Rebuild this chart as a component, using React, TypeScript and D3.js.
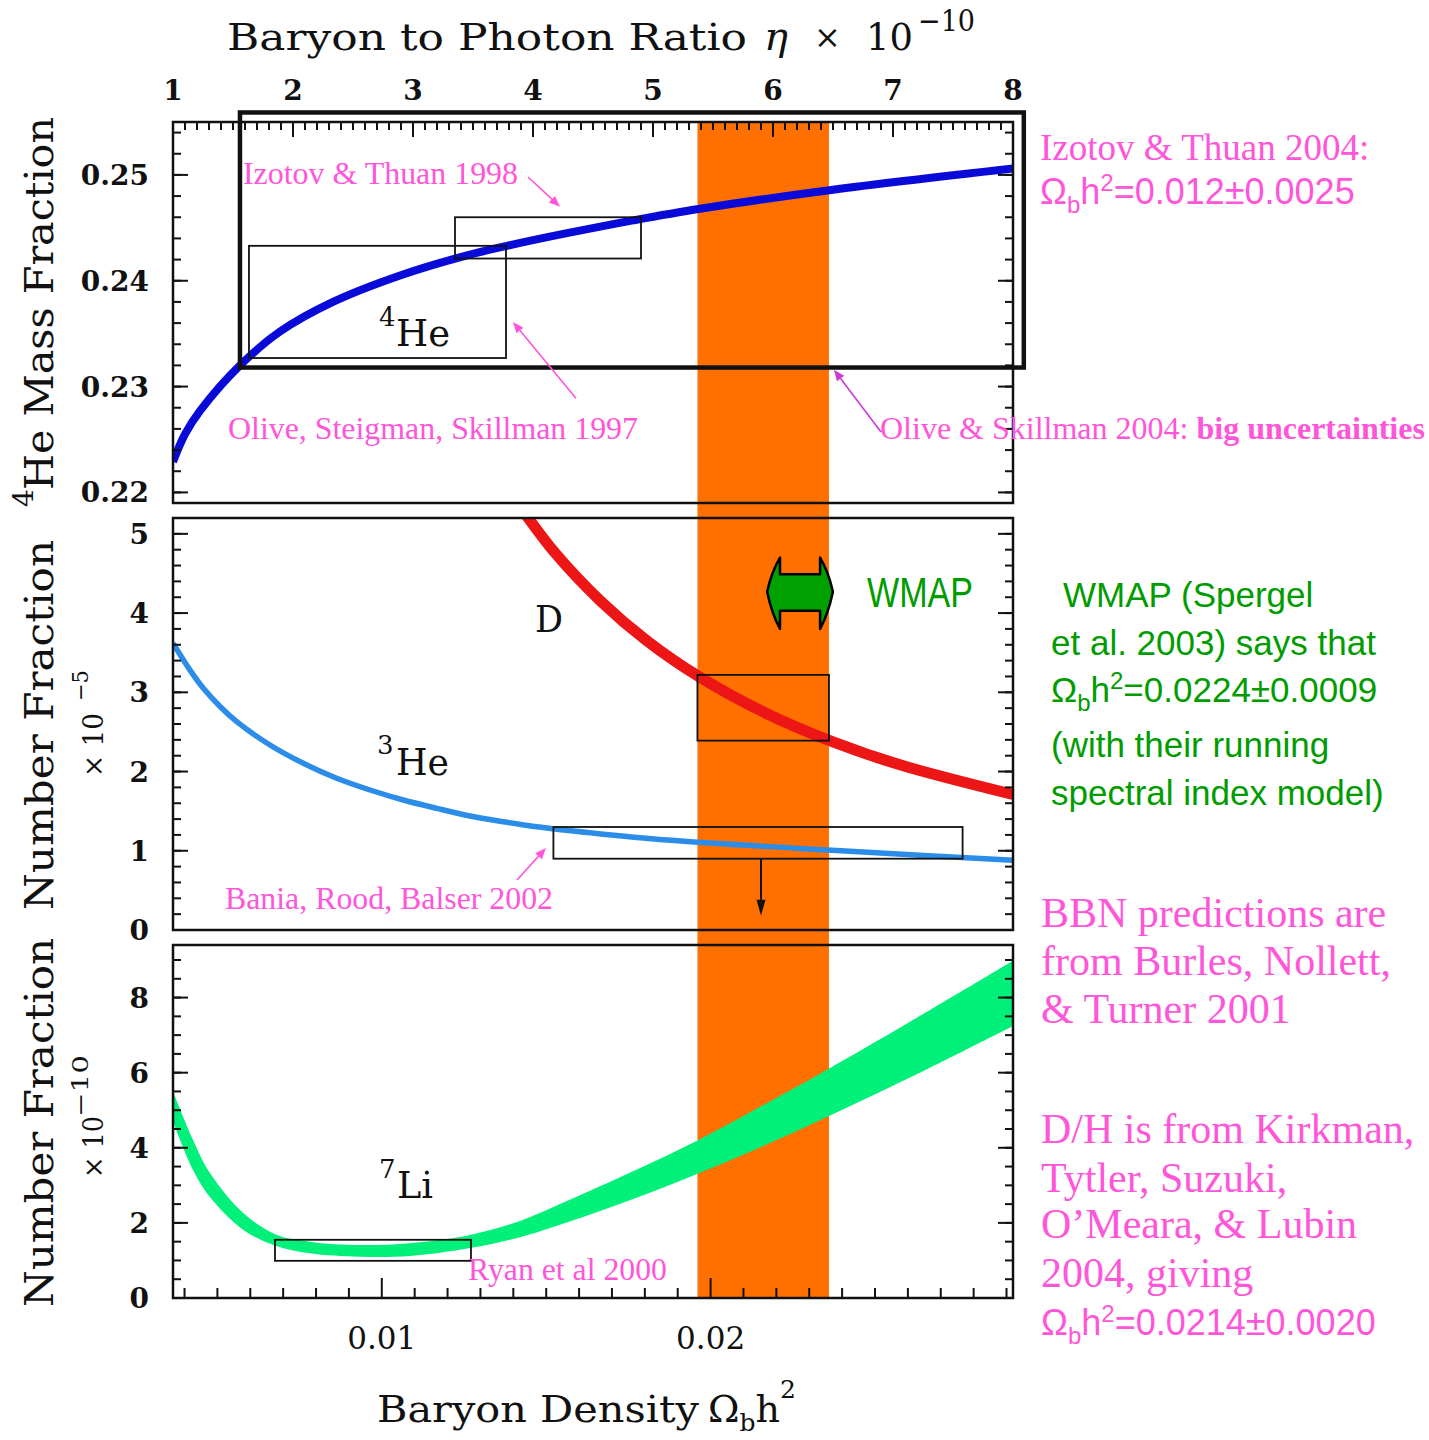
import React from "react";
import * as d3 from "d3";

// ---------------- data ----------------
const etaTicks = [1, 2, 3, 4, 5, 6, 7, 8];
const omegaTicks = [0.01, 0.02];
const he4Ticks = [0.22, 0.23, 0.24, 0.25];
const numTicks5 = [0, 1, 2, 3, 4, 5];
const numTicks10 = [0, 2, 4, 6, 8];

// 4He mass fraction vs eta_10
const he4Eta = [1.0, 1.1, 1.225, 1.558, 1.892, 2.333, 2.892, 3.45, 3.783, 4.283, 4.833, 5.392, 6.5, 8.0];
const he4Yp = [0.2229, 0.2255, 0.2277, 0.232, 0.2352, 0.238, 0.2405, 0.2424, 0.2433, 0.2445, 0.2457, 0.2468, 0.2486, 0.2506];

// D/H x 1e-5
const dEta = [3.85, 3.917, 4.167, 4.558, 4.95, 5.392, 5.95, 6.5, 7.058, 8.0];
const dVal = [5.43, 5.29, 4.79, 4.16, 3.65, 3.19, 2.73, 2.374, 2.085, 1.71];

// 3He/H x 1e-5
const he3Eta = [1.0, 1.142, 1.253, 1.392, 1.531, 1.808, 2.086, 2.364, 2.642, 2.919, 3.197, 3.475, 3.753, 4.031, 4.475, 5.117, 6.225, 7.333, 8.0];
const he3Val = [3.62, 3.28, 3.05, 2.82, 2.63, 2.335, 2.104, 1.915, 1.767, 1.641, 1.536, 1.439, 1.367, 1.304, 1.228, 1.136, 1.03, 0.935, 0.88];

// 7Li/H x 1e-10 band
const li7Eta = [1.0, 1.167, 1.308, 1.583, 1.85, 2.142, 2.558, 2.975, 3.475, 3.892, 4.225, 4.783, 5.367, 5.892, 6.45, 7.283, 8.0];
const li7Low = [4.7, 3.41, 2.69, 1.82, 1.4, 1.19, 1.1, 1.12, 1.33, 1.62, 1.95, 2.575, 3.305, 4.01, 4.82, 6.09, 7.24];
const li7High = [5.5, 4.21, 3.33, 2.27, 1.7, 1.5, 1.41, 1.46, 1.68, 2.05, 2.5, 3.3, 4.19, 5.09, 6.08, 7.62, 8.98];

// observational boxes / bands
const dhBand = [0.0196, 0.0236]; // Omega_b h^2 (Kirkman et al. 2004)
const dhRange = [2.39, 3.22];
const oss97Eta = [1.633, 3.775];
const oss97Yp = [0.2327, 0.2433];
const it98Eta = [3.35, 4.9];
const it98Yp = [0.2421, 0.246];
const os04Eta = [1.558, 8.09];
const os04Yp = [0.2318, 0.2559];
const brb02Eta = [4.17, 7.58];
const brb02Val = [0.9, 1.3];
const brbArrowEta = 5.9;
const brbArrowTo = 0.18;
const ryanEta = [1.85, 3.483];
const ryanVal = [0.99, 1.55];
const wmapTip = [0.02172, 0.02372];
const wmapNeck = [0.02211, 0.02333];
const wmapHead = [3.8, 4.7];
const wmapBody = [4.03, 4.49];
const wmapMid = 4.27;

// ---------------- styles ----------------
const AX = "'DejaVu Serif', serif";
const TIMES = "'Liberation Serif', 'Times New Roman', serif";
const SANS = "'Liberation Sans', Arial, sans-serif";
const PINK = "#ff55d9";
const GREEN = "#009c00";
const ORANGE = "#ff7000";

function Arrow({ x1, y1, x2, y2, color, w = 1.6, hl = 11, hw = 4.5 }: any) {
  const a = Math.atan2(y2 - y1, x2 - x1);
  const bx = x2 - hl * Math.cos(a);
  const by = y2 - hl * Math.sin(a);
  const px = -Math.sin(a) * hw;
  const py = Math.cos(a) * hw;
  return (
    <g>
      <line x1={x1} y1={y1} x2={bx} y2={by} stroke={color} strokeWidth={w} />
      <path d={`M${x2},${y2}L${bx + px},${by + py}L${bx - px},${by - py}Z`} fill={color} />
    </g>
  );
}

export default function App() {
  const X0 = 173, X1 = 1013;
  const P1 = [122, 503], P2 = [518, 930], P3 = [945, 1298];
  const xEta = d3.scaleLinear().domain([1, 8]).range([X0, X1]);
  const xOm = d3.scaleLinear().domain([1 / 274, 8 / 274]).range([X0, X1]);
  const y1 = d3.scaleLinear().domain([0.219, 0.255]).range([P1[1], P1[0]]);
  const y2 = d3.scaleLinear().domain([0, 5.2]).range([P2[1], P2[0]]);
  const y3 = d3.scaleLinear().domain([0, 9.4]).range([P3[1], P3[0]]);

  const curve = d3.curveCatmullRom.alpha(0.5);
  const mkLine = (xs: number[], ys: number[], ys2: any) =>
    d3.line<number>().x((_, i) => xEta(xs[i])).y((d) => ys2(d)).curve(curve)(ys) as string;

  const he4Path = mkLine(he4Eta, he4Yp, y1);
  const dPath = mkLine(dEta, dVal, y2);
  const he3Path = mkLine(he3Eta, he3Val, y2);
  const liPath = d3
    .area<number>()
    .x((d) => xEta(d))
    .y0((_, i) => y3(li7Low[i]))
    .y1((_, i) => y3(li7High[i]))
    .curve(curve)(li7Eta) as string;

  const box = (xs: any, ys: any, xr: number[], yr: number[], sw = 1.8) => (
    <rect
      x={xs(xr[0])}
      y={ys(yr[1])}
      width={xs(xr[1]) - xs(xr[0])}
      height={ys(yr[0]) - ys(yr[1])}
      fill="none"
      stroke="#111"
      strokeWidth={sw}
    />
  );

  // ticks
  const etaMinor = d3.range(10, 81).map((i) => i / 10).filter((v) => Math.abs(v - Math.round(v)) > 1e-6);
  const omMinor = d3.range(4, 30).filter((i) => i % 10 !== 0).map((i) => i / 1000);
  const he4Minor = d3.range(110, 128).map((i) => i * 0.002).filter((v) => v < 0.2549);
  const n5Minor = d3.range(0, 26).map((i) => i * 0.2);
  const n10Minor = d3.range(0, 19).map((i) => i * 0.5);

  const yTicks = (ys: any, major: number[], minor: number[]) => (
    <g stroke="#111" strokeWidth={2}>
      {minor.map((v, i) => (
        <g key={"m" + i}>
          <line x1={X0} x2={X0 + 8} y1={ys(v)} y2={ys(v)} />
          <line x1={X1} x2={X1 - 8} y1={ys(v)} y2={ys(v)} />
        </g>
      ))}
      {major.map((v, i) => (
        <g key={"M" + i}>
          <line x1={X0} x2={X0 + 15} y1={ys(v)} y2={ys(v)} />
          <line x1={X1} x2={X1 - 15} y1={ys(v)} y2={ys(v)} />
        </g>
      ))}
    </g>
  );
  const yLabels = (ys: any, major: number[], fmt: (v: number) => string) => (
    <g fontFamily={AX} fontWeight="bold" fontSize={28} fill="#111" textAnchor="end">
      {major.map((v, i) => (
        <text key={i} x={149} y={ys(v) + 10}>
          {fmt(v)}
        </text>
      ))}
    </g>
  );

  // WMAP double arrow
  const tl = xOm(wmapTip[0]), tr = xOm(wmapTip[1]);
  const nl = xOm(wmapNeck[0]), nr = xOm(wmapNeck[1]);
  const yc = y2(wmapMid);
  const yh0 = y2(wmapHead[1]), yh1 = y2(wmapHead[0]);
  const yb0 = y2(wmapBody[1]), yb1 = y2(wmapBody[0]);
  const bl = (nl - tl) * 0.35;
  const wmapPath =
    `M${nl},${yh0}L${nl},${yb0}L${nr},${yb0}L${nr},${yh0}` +
    `Q${tr - bl},${(yh0 + yc) / 2 - 3} ${tr},${yc}` +
    `Q${tr - bl},${(yh1 + yc) / 2 + 3} ${nr},${yh1}` +
    `L${nr},${yb1}L${nl},${yb1}L${nl},${yh1}` +
    `Q${tl + bl},${(yh1 + yc) / 2 + 3} ${tl},${yc}` +
    `Q${tl + bl},${(yh0 + yc) / 2 - 3} ${nl},${yh0}Z`;

  return (
    <svg
      width={1429}
      height={1440}
      viewBox="0 0 1429 1440"
      style={{ position: "absolute", left: 0, top: 0, background: "#fff" }}
    >
      <defs>
        <clipPath id="c1"><rect x={X0} y={P1[0]} width={X1 - X0} height={P1[1] - P1[0]} /></clipPath>
        <clipPath id="c2"><rect x={X0} y={P2[0]} width={X1 - X0} height={P2[1] - P2[0]} /></clipPath>
        <clipPath id="c3"><rect x={X0} y={P3[0]} width={X1 - X0} height={P3[1] - P3[0]} /></clipPath>
      </defs>
      <rect x={0} y={0} width={1429} height={1440} fill="#fff" />

      {/* orange D/H band across all panels */}
      <rect x={xOm(dhBand[0])} y={P1[0]} width={xOm(dhBand[1]) - xOm(dhBand[0])} height={P3[1] - P1[0]} fill={ORANGE} />

      {/* curves */}
      <g clipPath="url(#c1)">
        <path d={he4Path} fill="none" stroke="#0a0ad8" strokeWidth={8} />
      </g>
      <g clipPath="url(#c2)">
        <path d={dPath} fill="none" stroke="#ec1616" strokeWidth={11} />
        <path d={he3Path} fill="none" stroke="#2b8de8" strokeWidth={5.5} />
      </g>
      <g clipPath="url(#c3)">
        <path d={liPath} fill="#00f07a" />
      </g>

      {/* observational boxes */}
      {box(xEta, y1, oss97Eta, oss97Yp)}
      {box(xEta, y1, it98Eta, it98Yp)}
      {box(xOm, y2, dhBand, dhRange)}
      {box(xEta, y2, brb02Eta, brb02Val)}
      {box(xEta, y3, ryanEta, ryanVal)}
      <Arrow x1={xEta(brbArrowEta)} y1={y2(brb02Val[0])} x2={xEta(brbArrowEta)} y2={y2(brbArrowTo)} color="#111" w={2} hl={16} hw={4.5} />

      {/* WMAP arrow */}
      <path d={wmapPath} fill="#00a000" stroke="#000" strokeWidth={2.5} strokeLinejoin="round" />
      <text x={867} y={607} fontFamily={SANS} fontSize={42} fill={GREEN} textLength={106} lengthAdjust="spacingAndGlyphs">WMAP</text>

      {/* panel frames */}
      {[P1, P2, P3].map((p, i) => (
        <rect key={i} x={X0} y={p[0]} width={X1 - X0} height={p[1] - p[0]} fill="none" stroke="#111" strokeWidth={2.5} />
      ))}

      {/* top eta axis */}
      <g stroke="#111" strokeWidth={2}>
        {etaMinor.map((v, i) => (
          <line key={i} x1={xEta(v)} x2={xEta(v)} y1={P1[0]} y2={P1[0] + 8} />
        ))}
        {etaTicks.map((v, i) => (
          <line key={"M" + i} x1={xEta(v)} x2={xEta(v)} y1={P1[0]} y2={P1[0] + 15} />
        ))}
      </g>
      <g fontFamily={AX} fontWeight="bold" fontSize={28} fill="#111" textAnchor="middle">
        {etaTicks.map((v, i) => (
          <text key={i} x={xEta(v)} y={100}>{v}</text>
        ))}
      </g>

      {/* bottom Omega axis */}
      <g stroke="#111" strokeWidth={2}>
        {omMinor.map((v, i) => (
          <line key={i} x1={xOm(v)} x2={xOm(v)} y1={P3[1]} y2={P3[1] - 10} />
        ))}
        {omegaTicks.map((v, i) => (
          <line key={"M" + i} x1={xOm(v)} x2={xOm(v)} y1={P3[1]} y2={P3[1] - 20} />
        ))}
      </g>
      <g fontFamily={AX} fontSize={31} fill="#111" textAnchor="middle">
        {omegaTicks.map((v, i) => (
          <text key={i} x={xOm(v)} y={1349}>{v.toFixed(2)}</text>
        ))}
      </g>

      {/* y axes */}
      {yTicks(y1, he4Ticks, he4Minor)}
      {yLabels(y1, he4Ticks, (v) => v.toFixed(2))}
      {yTicks(y2, numTicks5, n5Minor)}
      {yLabels(y2, numTicks5, (v) => String(v))}
      {yTicks(y3, numTicks10, n10Minor)}
      {yLabels(y3, numTicks10, (v) => String(v))}

      {/* Olive & Skillman 2004 big box */}
      {box(xEta, y1, os04Eta, os04Yp, 4.5)}

      {/* axis titles */}
      <g fontFamily={AX} fill="#111">
        <text x={227} y={50} fontSize={38} textLength={520} lengthAdjust="spacingAndGlyphs">Baryon to Photon Ratio</text>
        <text x={764} y={50} fontSize={40} fontStyle="italic">η</text>
        <text x={814} y={48} fontSize={32}>×</text>
        <text x={866} y={50} fontSize={38} textLength={47} lengthAdjust="spacingAndGlyphs">10</text>
        <text x={918} y={31} fontSize={30} textLength={57} lengthAdjust="spacingAndGlyphs">−10</text>

        <text x={377} y={1422} fontSize={38} textLength={322} lengthAdjust="spacingAndGlyphs">Baryon Density</text>
        <text x={708} y={1422} fontSize={38}>
          Ω<tspan fontSize={25} dy={9}>b</tspan>
          <tspan dy={-9}>h</tspan>
          <tspan fontSize={25} dy={-24}>2</tspan>
        </text>

        <text transform="translate(53,490) rotate(-90)" fontSize={40} textLength={373} lengthAdjust="spacingAndGlyphs">He Mass Fraction</text>
        <text transform="translate(33,507) rotate(-90)" fontSize={28}>4</text>

        <text transform="translate(53,910) rotate(-90)" fontSize={40} textLength={370} lengthAdjust="spacingAndGlyphs">Number Fraction</text>
        <text transform="translate(103,777) rotate(-90)" fontSize={28} textLength={64} lengthAdjust="spacingAndGlyphs">× 10</text>
        <text transform="translate(88,701) rotate(-90)" fontSize={22} textLength={31} lengthAdjust="spacingAndGlyphs">−5</text>

        <text transform="translate(53,1307) rotate(-90)" fontSize={40} textLength={369} lengthAdjust="spacingAndGlyphs">Number Fraction</text>
        <text transform="translate(103,1178) rotate(-90)" fontSize={28} textLength={62} lengthAdjust="spacingAndGlyphs">× 10</text>
        <text transform="translate(88,1117) rotate(-90)" fontSize={22} textLength={62} lengthAdjust="spacingAndGlyphs">−10</text>

        {/* isotope labels */}
        <text x={379} y={326} fontSize={26}>4</text>
        <text x={396} y={346} fontSize={37} textLength={54} lengthAdjust="spacingAndGlyphs">He</text>
        <text x={535} y={632} fontSize={37} textLength={28} lengthAdjust="spacingAndGlyphs">D</text>
        <text x={377} y={754} fontSize={26}>3</text>
        <text x={396} y={775} fontSize={37} textLength={53} lengthAdjust="spacingAndGlyphs">He</text>
        <text x={379} y={1178} fontSize={26}>7</text>
        <text x={397} y={1198} fontSize={37} textLength={36} lengthAdjust="spacingAndGlyphs">Li</text>
      </g>

      {/* in-plot pink annotations */}
      <g fontFamily={TIMES} fontSize={32} fill={PINK}>
        <text x={243} y={184} textLength={275} lengthAdjust="spacingAndGlyphs">Izotov &amp; Thuan 1998</text>
        <text x={228} y={439} textLength={410} lengthAdjust="spacingAndGlyphs">Olive, Steigman, Skillman 1997</text>
        <text x={880} y={439}>
          Olive &amp; Skillman 2004: <tspan fontWeight="bold">big uncertainties</tspan>
        </text>
        <text x={225} y={909} textLength={328} lengthAdjust="spacingAndGlyphs">Bania, Rood, Balser 2002</text>
        <text x={468} y={1280} fontSize={31} textLength={199} lengthAdjust="spacingAndGlyphs">Ryan et al 2000</text>
      </g>
      <Arrow x1={xEta(3.958)} y1={y1(0.2498)} x2={xEta(4.225)} y2={y1(0.247)} color={PINK} />
      <Arrow x1={xEta(4.358)} y1={y1(0.2289)} x2={xEta(3.833)} y2={y1(0.2361)} color={PINK} />
      <Arrow x1={xEta(6.9)} y1={y1(0.2257)} x2={xEta(6.508)} y2={y1(0.2316)} color="#cc3ad6" />
      <Arrow x1={xEta(3.867)} y1={y2(0.631)} x2={xEta(4.108)} y2={y2(1.035)} color={PINK} />

      {/* right-hand notes */}
      <g fontFamily={TIMES} fill={PINK}>
        <text x={1040} y={160} fontSize={37}>Izotov &amp; Thuan 2004:</text>
        <text x={1041} y={927} fontSize={42}>BBN predictions are</text>
        <text x={1041} y={975} fontSize={42}>from Burles, Nollett,</text>
        <text x={1041} y={1023} fontSize={42}>&amp; Turner 2001</text>
        <text x={1041} y={1143} fontSize={42}>D/H is from Kirkman,</text>
        <text x={1041} y={1192} fontSize={42}>Tytler, Suzuki,</text>
        <text x={1041} y={1238} fontSize={42}>O’Meara, &amp; Lubin</text>
        <text x={1041} y={1287} fontSize={42}>2004, giving</text>
      </g>
      <g fontFamily={SANS} fill={PINK} fontSize={36}>
        <text x={1040} y={204}>
          Ω<tspan fontSize={24} dy={9}>b</tspan>
          <tspan dy={-9}>h</tspan>
          <tspan fontSize={24} dy={-13}>2</tspan>
          <tspan dy={13}>=0.012±0.0025</tspan>
        </text>
        <text x={1041} y={1335}>
          Ω<tspan fontSize={24} dy={9}>b</tspan>
          <tspan dy={-9}>h</tspan>
          <tspan fontSize={24} dy={-13}>2</tspan>
          <tspan dy={13}>=0.0214±0.0020</tspan>
        </text>
      </g>
      <g fontFamily={SANS} fill={GREEN} fontSize={35}>
        <text x={1063} y={607}>WMAP (Spergel</text>
        <text x={1051} y={655}>et al. 2003) says that</text>
        <text x={1051} y={702}>
          Ω<tspan fontSize={24} dy={9}>b</tspan>
          <tspan dy={-9}>h</tspan>
          <tspan fontSize={24} dy={-13}>2</tspan>
          <tspan dy={13}>=0.0224±0.0009</tspan>
        </text>
        <text x={1051} y={757}>(with their running</text>
        <text x={1051} y={805}>spectral index model)</text>
      </g>
    </svg>
  );
}
